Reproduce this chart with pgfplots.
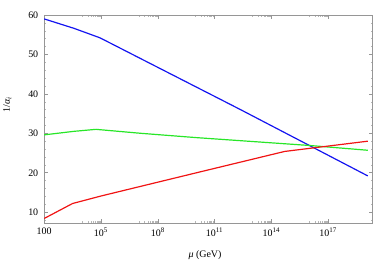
\documentclass[border=0pt]{standalone}
\usepackage{fontspec}
\setmainfont{Liberation Serif}
\usepackage{pgfplots}
\pgfplotsset{compat=1.18}
\definecolor{mblue}{RGB}{20,20,240}
\definecolor{mgreen}{RGB}{40,230,40}
\definecolor{mred}{RGB}{240,20,20}
\definecolor{frame}{RGB}{150,150,150}
\begin{document}
\begin{tikzpicture}
\begin{axis}[
  scale only axis, width=329.5pt, height=209pt,
  xmin=2, xmax=19.34, ymin=7.2, ymax=60,
  axis line style={frame, line width=0.6pt},
  tick style={frame, line width=0.5pt},
  minor tick style={frame!70, line width=0.4pt},
  major tick length=4pt, minor tick length=2pt,
  tick align=inside,
  xtick={2,5,8,11,14,17},
  xticklabels={100,10\textsuperscript{5},10\textsuperscript{8},10\textsuperscript{11},10\textsuperscript{14},10\textsuperscript{17}},
  minor xtick={4,4.301,4.477,4.602,4.699,4.778,4.845,4.903,4.954,
               7,7.301,7.477,7.602,7.699,7.778,7.845,7.903,7.954,
               10,10.301,10.477,10.602,10.699,10.778,10.845,10.903,10.954,
               13,13.301,13.477,13.602,13.699,13.778,13.845,13.903,13.954,
               16,16.301,16.477,16.602,16.699,16.778,16.845,16.903,16.954},
  ytick={10,20,30,40,50,60},
  minor ytick={8,12,14,16,18,22,24,26,28,32,34,36,38,42,44,46,48,52,54,56,58},
  /pgf/number format/assume math mode=true,
  tick label style={font=\fontsize{10}{12}\selectfont},
  xticklabel style={yshift=-1pt},
  yticklabel style={xshift=-2pt},
  label style={font=\fontsize{10}{12}\selectfont},
  xlabel={\textit{μ} (GeV)},
  xlabel style={at={(axis description cs:0.49,-0.155)}, anchor=center},
  ylabel={1/\textit{α}\textsubscript{\textit{i}}},
  ylabel style={at={(axis description cs:-0.112,0.57)}, anchor=center, rotate=0},
  line width=1.2pt,
]
\addplot[mblue, no markers] coordinates {
 (2,59.0) (3.58,56.6) (4.95,54.2) (12.37,36.0) (19.09,19.2)};
\addplot[mgreen, no markers] coordinates {
 (2,29.6) (3.58,30.5) (4.74,31.0) (7.1,30.0) (10.05,28.9) (16.05,26.9) (19.09,25.7)};
\addplot[mred, no markers] coordinates {
 (2,8.4) (3.5,12.2) (5,14.1) (10.05,20.0) (14.7,25.4) (19.09,28.0)};
\end{axis}
\path ([shift={(-43pt,-38pt)}]current axis.south west) rectangle ([shift={(1.5pt,15pt)}]current axis.north east);
\end{tikzpicture}
\end{document}
